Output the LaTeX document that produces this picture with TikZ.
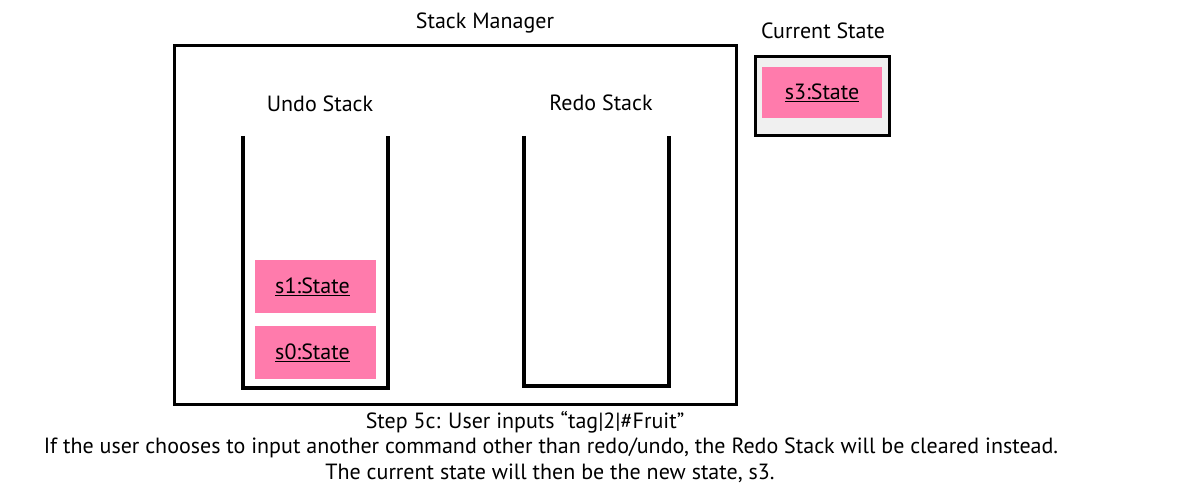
\documentclass[tikz,border=0pt]{standalone}
\usepackage{fontspec}
\setmainfont{PT Sans}
\definecolor{pinkst}{HTML}{FF7BAC}
\definecolor{grayst}{HTML}{F0F0F0}
\begin{document}
\begin{tikzpicture}[x=1pt,y=-1pt,
  lbl/.style={font=\fontsize{22}{26}\selectfont, inner sep=0pt},
  st/.style={fill=pinkst, draw=none, minimum width=121pt, minimum height=53pt, inner sep=0pt, font=\fontsize{22}{26}\selectfont},
  stackline/.style={line width=4pt, line join=miter}]
\useasboundingbox (0,0) rectangle (1180,497);
\node[draw, line width=3pt, minimum width=562pt, minimum height=358pt, inner sep=0pt] (mgr) at (455,225) {};
\node[lbl] (mgrl) at (485,23) {Stack Manager};
\node[draw, line width=3pt, fill=grayst, minimum width=134pt, minimum height=79pt, inner sep=0pt] (cur) at (822,96.5) {};
\node[lbl] (curl) at (823,31) {Current State};
\node[st, minimum width=120pt, minimum height=51pt] (s3) at (822,92.5) {\underline{s3:State}};
\node[lbl] (undol) at (320,104) {Undo Stack};
\node[lbl] (redol) at (601,103) {Redo Stack};
\coordinate (u1) at (243,136); \coordinate (u2) at (243,388); \coordinate (u3) at (388,388); \coordinate (u4) at (388,136);
\draw[stackline] (u1) -- (u2) -- (u3) -- (u4);
\coordinate (r1) at (524,136); \coordinate (r2) at (524,386); \coordinate (r3) at (669,386); \coordinate (r4) at (669,136);
\draw[stackline] (r1) -- (r2) -- (r3) -- (r4);
\node[st] (s1) at (315.5,286.5) {\underline{s1:State}\hspace*{6pt}};
\node[st] (s0) at (315.5,352.5) {\underline{s0:State}\hspace*{6pt}};
\node[lbl] (step) at (525,422) {Step 5c: User inputs “tag|2|\#Fruit”};
\node[lbl] (l2) at (551,448) {If the user chooses to input another command other than redo/undo, the Redo Stack will be cleared instead.};
\node[lbl] (l3) at (550,473) {The current state will then be the new state, s3.};
\end{tikzpicture}
\end{document}
